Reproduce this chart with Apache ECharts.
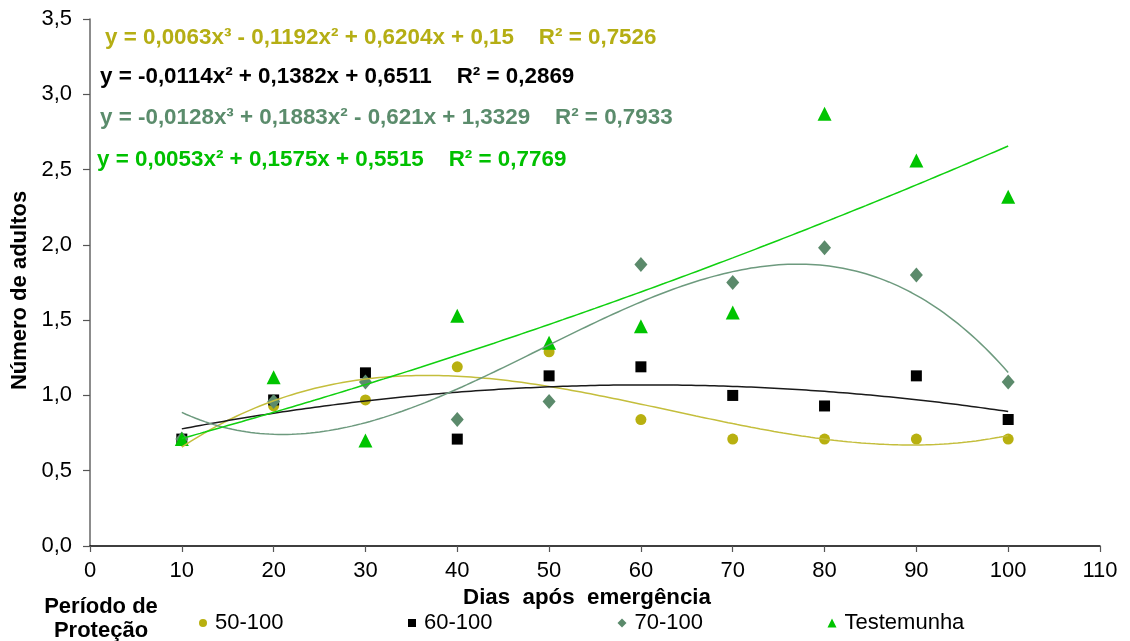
<!DOCTYPE html>
<html>
<head>
<meta charset="utf-8">
<script src="https://cdn.jsdelivr.net/npm/echarts@6/dist/echarts.min.js"></script>
<style>
html,body{margin:0;padding:0;background:#fff;}
#c{width:1130px;height:641px;}
</style>
</head>
<body>
<div id="c"></div>
<script>
// ---- data ----
const xDays = [10, 20, 30, 40, 50, 60, 70, 80, 90, 100];
const seriesNames = ['50-100', '60-100', '70-100', 'Testemunha'];
const s50 = [0.71, 0.93, 0.97, 1.19, 1.29, 0.84, 0.71, 0.71, 0.71, 0.71];
const s60 = [0.71, 0.97, 1.15, 0.71, 1.13, 1.19, 1.00, 0.93, 1.13, 0.84];
const s70 = [0.71, 0.96, 1.09, 0.84, 0.96, 1.87, 1.75, 1.98, 1.80, 1.09];
const sTest = [0.71, 1.12, 0.70, 1.53, 1.35, 1.46, 1.55, 2.87, 2.56, 2.32];
// trend-line coefficients as printed in the chart (c0 + c1*i + c2*i^2 + c3*i^3, i = point index)
const coef50 = [0.15, 0.6204, -0.1192, 0.0063];
const coef60 = [0.6511, 0.1382, -0.0114, 0];
const coef70 = [1.3329, -0.621, 0.1883, -0.0128];
const coefTest = [0.5515, 0.1575, 0.0053, 0];
const equations = [
  'y = 0,0063x³ - 0,1192x² + 0,6204x + 0,15    R² = 0,7526',
  'y = -0,0114x² + 0,1382x + 0,6511    R² = 0,2869',
  'y = -0,0128x³ + 0,1883x² - 0,621x + 1,3329    R² = 0,7933',
  'y = 0,0053x² + 0,1575x + 0,5515    R² = 0,7769'
];
const xTicks = [0, 110, 10];
const yTicks = [0, 3.5, 0.5];

// ---- styling ----
const FONT = "'Liberation Sans', Arial, sans-serif";
const markerColors = ['#b8b010', '#000000', '#5b8a6b', '#00c400'];
const lineColors = ['#c4be3c', '#1a1a1a', '#6d9a7e', '#10d010'];
const textColors = ['#b5ae14', '#000000', '#5b8c6c', '#00c000'];
const symbols = ['circle', 'rect', 'diamond', 'triangle'];
const symbolSizes = [11, 11, [13, 15], 14];
const legendSymSizes = [8, 8, 9, 9];

const pts = [s50, s60, s70, sTest];
const coefs = [coef50, coef60, coef70, coefTest];

function trend(c) {
  const out = [];
  for (let x = xDays[0]; x <= xDays[xDays.length - 1] + 1e-9; x += 0.5) {
    const i = x / 10;
    out.push([x, c[0] + c[1] * i + c[2] * i * i + c[3] * i * i * i]);
  }
  return out;
}

const series = [];
pts.forEach((arr, k) => {
  series.push({
    name: seriesNames[k],
    type: 'scatter',
    symbol: symbols[k],
    symbolSize: symbolSizes[k],
    itemStyle: { color: markerColors[k], opacity: 1 },
    data: xDays.map((x, j) => [x, arr[j]]),
    z: 3
  });
});
coefs.forEach((c, k) => {
  series.push({
    name: 'trend' + k,
    type: 'line',
    showSymbol: false,
    symbol: 'none',
    smooth: false,
    lineStyle: { color: lineColors[k], width: 1.5 },
    data: trend(c),
    z: 4,
    silent: true
  });
});

const eqLeft = [105, 100, 100, 97];
const eqCenterY = [38, 77, 118, 160];
const titles = equations.map((t, k) => ({
  text: t,
  left: eqLeft[k],
  top: eqCenterY[k] - 13,
  padding: 0,
  textStyle: { fontFamily: FONT, fontSize: 22.4, fontWeight: 'bold', color: textColors[k], lineHeight: 26 }
}));
titles.push({
  text: 'Período de\nProteção',
  left: 101,
  textAlign: 'center',
  top: 595,
  padding: 0,
  textStyle: { fontFamily: FONT, fontSize: 22, fontWeight: 'bold', color: '#000', lineHeight: 24 }
});

const legendLeft = [199, 408, 618, 828];
const legends = seriesNames.map((n, k) => ({
  data: [{ name: n, icon: symbols[k] }],
  left: legendLeft[k] - (legendSymSizes[k] - 8) / 2,
  top: 611,
  padding: 0,
  itemWidth: legendSymSizes[k],
  itemHeight: legendSymSizes[k],
  itemGap: 0,
  selectedMode: false,
  textStyle: { fontFamily: FONT, fontSize: 22, color: '#000', padding: [0, 0, 0, 3], lineHeight: 24 }
}));

const chart = echarts.init(document.getElementById('c'), null, { renderer: 'canvas' });
chart.setOption({
  animation: false,
  backgroundColor: '#fff',
  title: titles,
  legend: legends,
  grid: { left: 90, right: 30, top: 19, bottom: 95, containLabel: false },
  xAxis: {
    type: 'value',
    min: xTicks[0], max: xTicks[1], interval: xTicks[2],
    name: 'Dias  após  emergência',
    nameLocation: 'middle',
    nameGap: 40,
    nameTextStyle: { fontFamily: FONT, fontSize: 22.3, fontWeight: 'bold', color: '#000', padding: [0, 16, 0, 0] },
    axisLine: { lineStyle: { color: '#000', width: 1.5 } },
    axisTick: { show: true, length: 6, inside: false, lineStyle: { color: '#555', width: 1.2 } },
    axisLabel: { fontFamily: FONT, fontSize: 22, color: '#000', margin: 14 },
    splitLine: { show: false }
  },
  yAxis: {
    type: 'value',
    min: yTicks[0], max: yTicks[1], interval: yTicks[2],
    name: 'Número de adultos',
    nameLocation: 'middle',
    nameGap: 58,
    nameRotate: 90,
    nameTextStyle: { fontFamily: FONT, fontSize: 22, fontWeight: 'bold', color: '#000', padding: [0, 16, 0, 0] },
    axisLine: { show: true, lineStyle: { color: '#666', width: 1.5 } },
    axisTick: { show: true, length: 7, inside: false, lineStyle: { color: '#555', width: 1.2 } },
    axisLabel: {
      fontFamily: FONT, fontSize: 22, color: '#000', margin: 18,
      formatter: v => v.toFixed(1).replace('.', ',')
    },
    splitLine: { show: false }
  },
  series: series
});
</script>
</body>
</html>
